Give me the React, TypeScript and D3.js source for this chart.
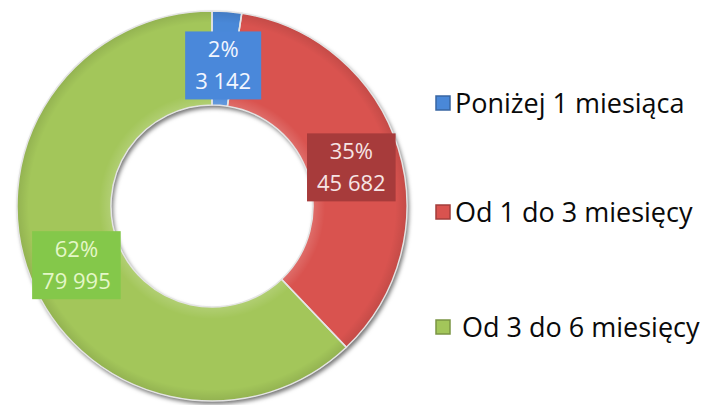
import React from "react";
import * as d3 from "d3";

const categories = ["Poniżej 1 miesiąca", "Od 1 do 3 miesięcy", "Od 3 do 6 miesięcy"];
const values = [3142, 45682, 79995];
const valueLabels = ["3 142", "45 682", "79 995"];
const percentLabels = ["2%", "35%", "62%"];
const sliceColors = ["#4A88D8", "#D9534F", "#A3C65A"];
const boxColors = ["#4A88DA", "#A73B3B", "#84C84A"];
const textColors = ["#F2F6FF", "#F6E4E4", "#E4F7C8"];
const legendTexts = ["Poniżej 1 miesiąca", "Od 1 do 3 miesięcy", " Od 3 do 6 miesięcy"];

const W = 724;
const H = 405;
const cx = 212;
const cy = 206;
const outerR = 195;
const innerR = 101;
const FONT = "'Open Sans', sans-serif";

function measure(text: string, size: number): number {
  const c = document.createElement("canvas").getContext("2d");
  if (!c) return text.length * size * 0.55;
  c.font = `${size}px 'Open Sans'`;
  return c.measureText(text).width;
}

export default function App() {
  const pie = d3.pie<number>().sort(null).value((d) => d);
  const arcs = pie(values);
  const arc = d3.arc<d3.PieArcDatum<number>>().innerRadius(innerR).outerRadius(outerR);
  const labelArc = d3.arc<d3.PieArcDatum<number>>().innerRadius(100).outerRadius(192);
  const labelFs = 22;
  const legendFs = 27;
  const legendY = [113, 222, 337];

  return (
    <svg width={W} height={H} style={{ position: "absolute", left: 0, top: 0, background: "#fff" }}>
      <defs>
        <filter id="shadow" x="-20%" y="-20%" width="140%" height="140%">
          <feDropShadow dx="2" dy="3" stdDeviation="2" floodColor="#000" floodOpacity="0.55" />
        </filter>
        <radialGradient id="bevel" gradientUnits="userSpaceOnUse" cx={0} cy={0} r={outerR}>
          <stop offset="0.52" stopColor="#fff" stopOpacity="0.15" />
          <stop offset="0.58" stopColor="#fff" stopOpacity="0" />
          <stop offset="0.94" stopColor="#000" stopOpacity="0" />
          <stop offset="1" stopColor="#000" stopOpacity="0.1" />
        </radialGradient>
      </defs>
      <g transform={`translate(${cx},${cy})`}>
        <g filter="url(#shadow)">
          {arcs.map((a, i) => (
            <path key={i} d={arc(a) || ""} fill={sliceColors[i]} />
          ))}
        </g>
        {arcs.map((a, i) => (
          <path key={"b" + i} d={arc(a) || ""} fill="url(#bevel)" stroke="#E4E4E4" strokeWidth={1.5} />
        ))}
        {arcs.map((a, i) => {
          const [lx, ly0] = labelArc.centroid(a);
          const ly = ly0 + 5;
          const w = Math.max(measure(percentLabels[i], labelFs), measure(valueLabels[i], labelFs)) + 20;
          const h = 68;
          return (
            <g key={"l" + i} transform={`translate(${lx},${ly})`}>
              <rect x={-w / 2} y={-h / 2} width={w} height={h} fill={boxColors[i]} />
              <text x={0} y={-8} textAnchor="middle" fontFamily={FONT} fontSize={labelFs} fill={textColors[i]}>
                {percentLabels[i]}
              </text>
              <text x={0} y={24} textAnchor="middle" fontFamily={FONT} fontSize={labelFs} fill={textColors[i]}>
                {valueLabels[i]}
              </text>
            </g>
          );
        })}
      </g>
      {categories.map((c, i) => (
        <g key={"lg" + i}>
          <rect x={436} y={legendY[i] - 17} width={14} height={14} fill={sliceColors[i]} stroke={d3.color(sliceColors[i])!.darker(0.8).toString()} strokeWidth={1.5} />
          <text x={455} y={legendY[i]} fontFamily={FONT} fontSize={legendFs} fill="#0A0A0A" style={{ whiteSpace: "pre" }}>
            {legendTexts[i]}
          </text>
        </g>
      ))}
    </svg>
  );
}
